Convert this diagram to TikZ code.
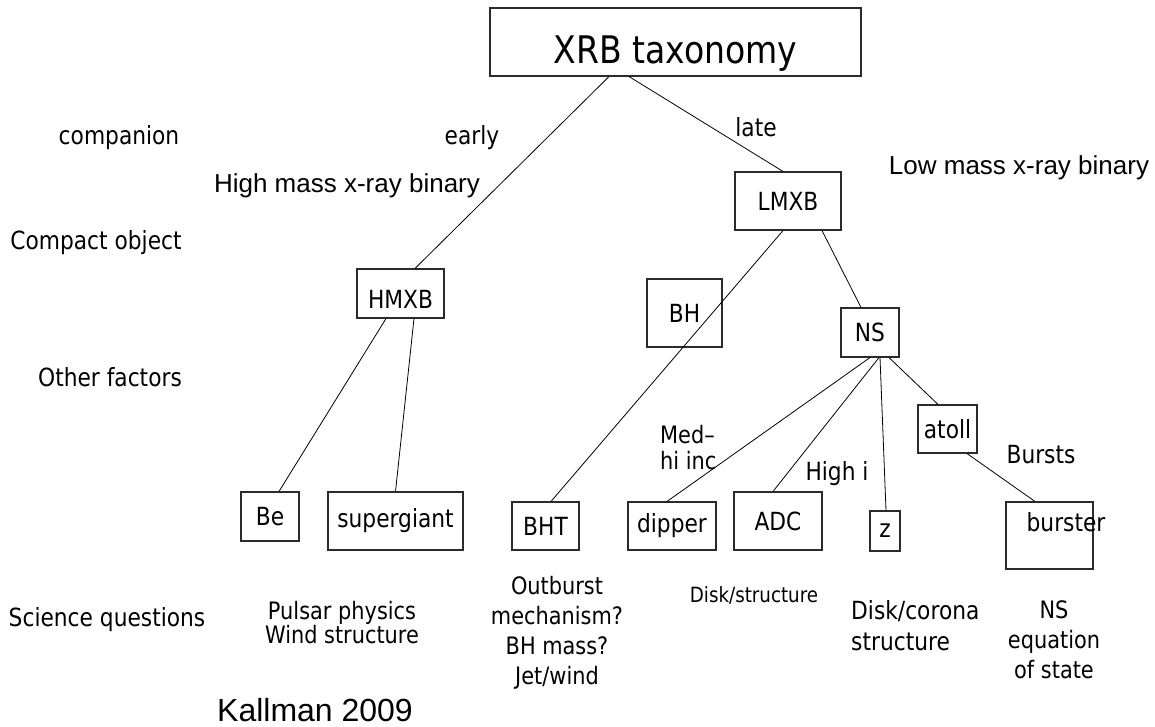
\documentclass[tikz,border=0pt]{standalone}
\usepackage{fontspec}
\setmainfont{DejaVu Sans}[FakeStretch=0.87]
\newfontfamily\arialfont{Liberation Sans}
\usetikzlibrary{positioning}
\definecolor{ink}{HTML}{000000}
\definecolor{edge}{HTML}{2B2B2B}
\newcommand{\setfs}[2]{\fontsize{#1}{#2}\selectfont}
\tikzset{
  box/.style={draw=edge,line width=1.1pt,inner sep=0pt,text=ink,font=\setfs{25}{29}},
  lbl/.style={inner sep=0pt,text=ink,font=\setfs{25}{29}},
  arl/.style={inner sep=0pt,text=ink,font=\arialfont\setfs{26}{30}},
  link/.style={draw=ink,line width=0.8pt}
}
\begin{document}
\begin{tikzpicture}[x=1pt,y=-1pt]
  \useasboundingbox (0,0) rectangle (1155,726);
  % tree boxes
  \node[box,minimum width=371pt,minimum height=68pt,font=\setfs{38}{42},
    text height=42pt,text depth=0pt] (title) at (675.5,42) {XRB taxonomy};
  \node[box,minimum width=87pt,minimum height=49pt,text height=29pt,text depth=0pt] (hmxb) at (400.5,293.5) {HMXB};
  \node[box,minimum width=106pt,minimum height=58pt] (lmxb) at (788,201) {LMXB};
  \node[box,minimum width=58pt,minimum height=49pt] (be) at (270,516.5) {Be};
  \node[box,minimum width=135pt,minimum height=58pt] (sg) at (395.5,521) {supergiant};
  \node[box,minimum width=75pt,minimum height=68pt] (bh) at (684.5,313) {BH};
  \node[box,minimum width=67pt,minimum height=48pt] (bht) at (545.5,526) {BHT};
  \node[box,minimum width=58pt,minimum height=49pt] (ns) at (870,332.5) {NS};
  \node[box,minimum width=88pt,minimum height=48pt] (dipper) at (672,526) {dipper};
  \node[box,minimum width=88pt,minimum height=58pt] (adc) at (778,521) {ADC};
  \node[box,minimum width=30pt,minimum height=40pt] (z) at (885,531) {z};
  \node[box,minimum width=59pt,minimum height=48pt] (atoll) at (947.5,429) {atoll};
  \node[box,minimum width=87pt,minimum height=67pt] (burster) at (1049.5,535.5) {};
  \node[lbl] (bursterlbl) at (1066,522) {burster};
  % branches
  \draw[link] ([xshift=-66.5pt]title.south) -- ([xshift=14.5pt]hmxb.north);
  \draw[link] ([xshift=-46.5pt]title.south) -- ([xshift=-5pt]lmxb.north);
  \draw[link] ([xshift=-14.5pt]hmxb.south) -- ([xshift=9pt]be.north);
  \draw[link] ([xshift=13.5pt]hmxb.south) -- (sg.north);
  \draw[link] ([xshift=-5pt]lmxb.south) -- ([xshift=5.5pt]bht.north);
  \draw[link] ([xshift=34pt]lmxb.south) -- ([xshift=-9pt]ns.north);
  \draw[link] (ns.south) -- ([xshift=-5pt]dipper.north);
  \draw[link] ([xshift=9pt]ns.south) -- ([xshift=-5pt]adc.north);
  \draw[link] ([xshift=10pt]ns.south) -- ([xshift=1pt]z.north);
  \draw[link] ([xshift=19pt]ns.south) -- ([xshift=-9.5pt]atoll.north);
  \draw[link] ([xshift=19.5pt]atoll.south) -- ([xshift=-14.5pt]burster.north);
  % level names
  \node[lbl] (companion) at (119,138) {companion};
  \node[lbl] (compact) at (96,243) {Compact object};
  \node[lbl] (other) at (110,377) {Other factors};
  \node[lbl] (science) at (107,620) {Science questions};
  % branch labels
  \node[lbl] (early) at (472,138) {early};
  \node[lbl] (late) at (756,127) {late};
  \node[arl] (hmxbname) at (347,186) {High mass x-ray binary};
  \node[arl] (lmxbname) at (1019,168) {Low mass x-ray binary};
  \node[lbl,align=left,anchor=west,font=\setfs{24}{26}] (medhi) at (660,448) {Med–\\hi inc};
  \node[lbl] (highi) at (837,474) {High i};
  \node[lbl] (bursts) at (1041,455) {Bursts};
  % science questions
  \node[lbl,align=center,font=\setfs{24}{24}] (hmxbq) at (342,623) {Pulsar physics\\Wind structure};
  \node[lbl,align=center,font=\setfs{24}{30}] (bhtq) at (557,633) {Outburst\\mechanism?\\BH mass?\\Jet/wind};
  \node[lbl,font=\setfs{21}{24}] (dipq) at (754,595) {Disk/structure};
  \node[lbl,align=left,anchor=west,font=\setfs{25}{31}] (zq) at (851,626) {Disk/corona\\structure};
  \node[lbl,align=center,font=\setfs{24}{30}] (burstq) at (1054,640) {NS\\equation\\of state};
  \node[arl,font=\arialfont\setfs{32}{36}] (cite) at (315,710) {Kallman 2009};
\end{tikzpicture}
\end{document}
